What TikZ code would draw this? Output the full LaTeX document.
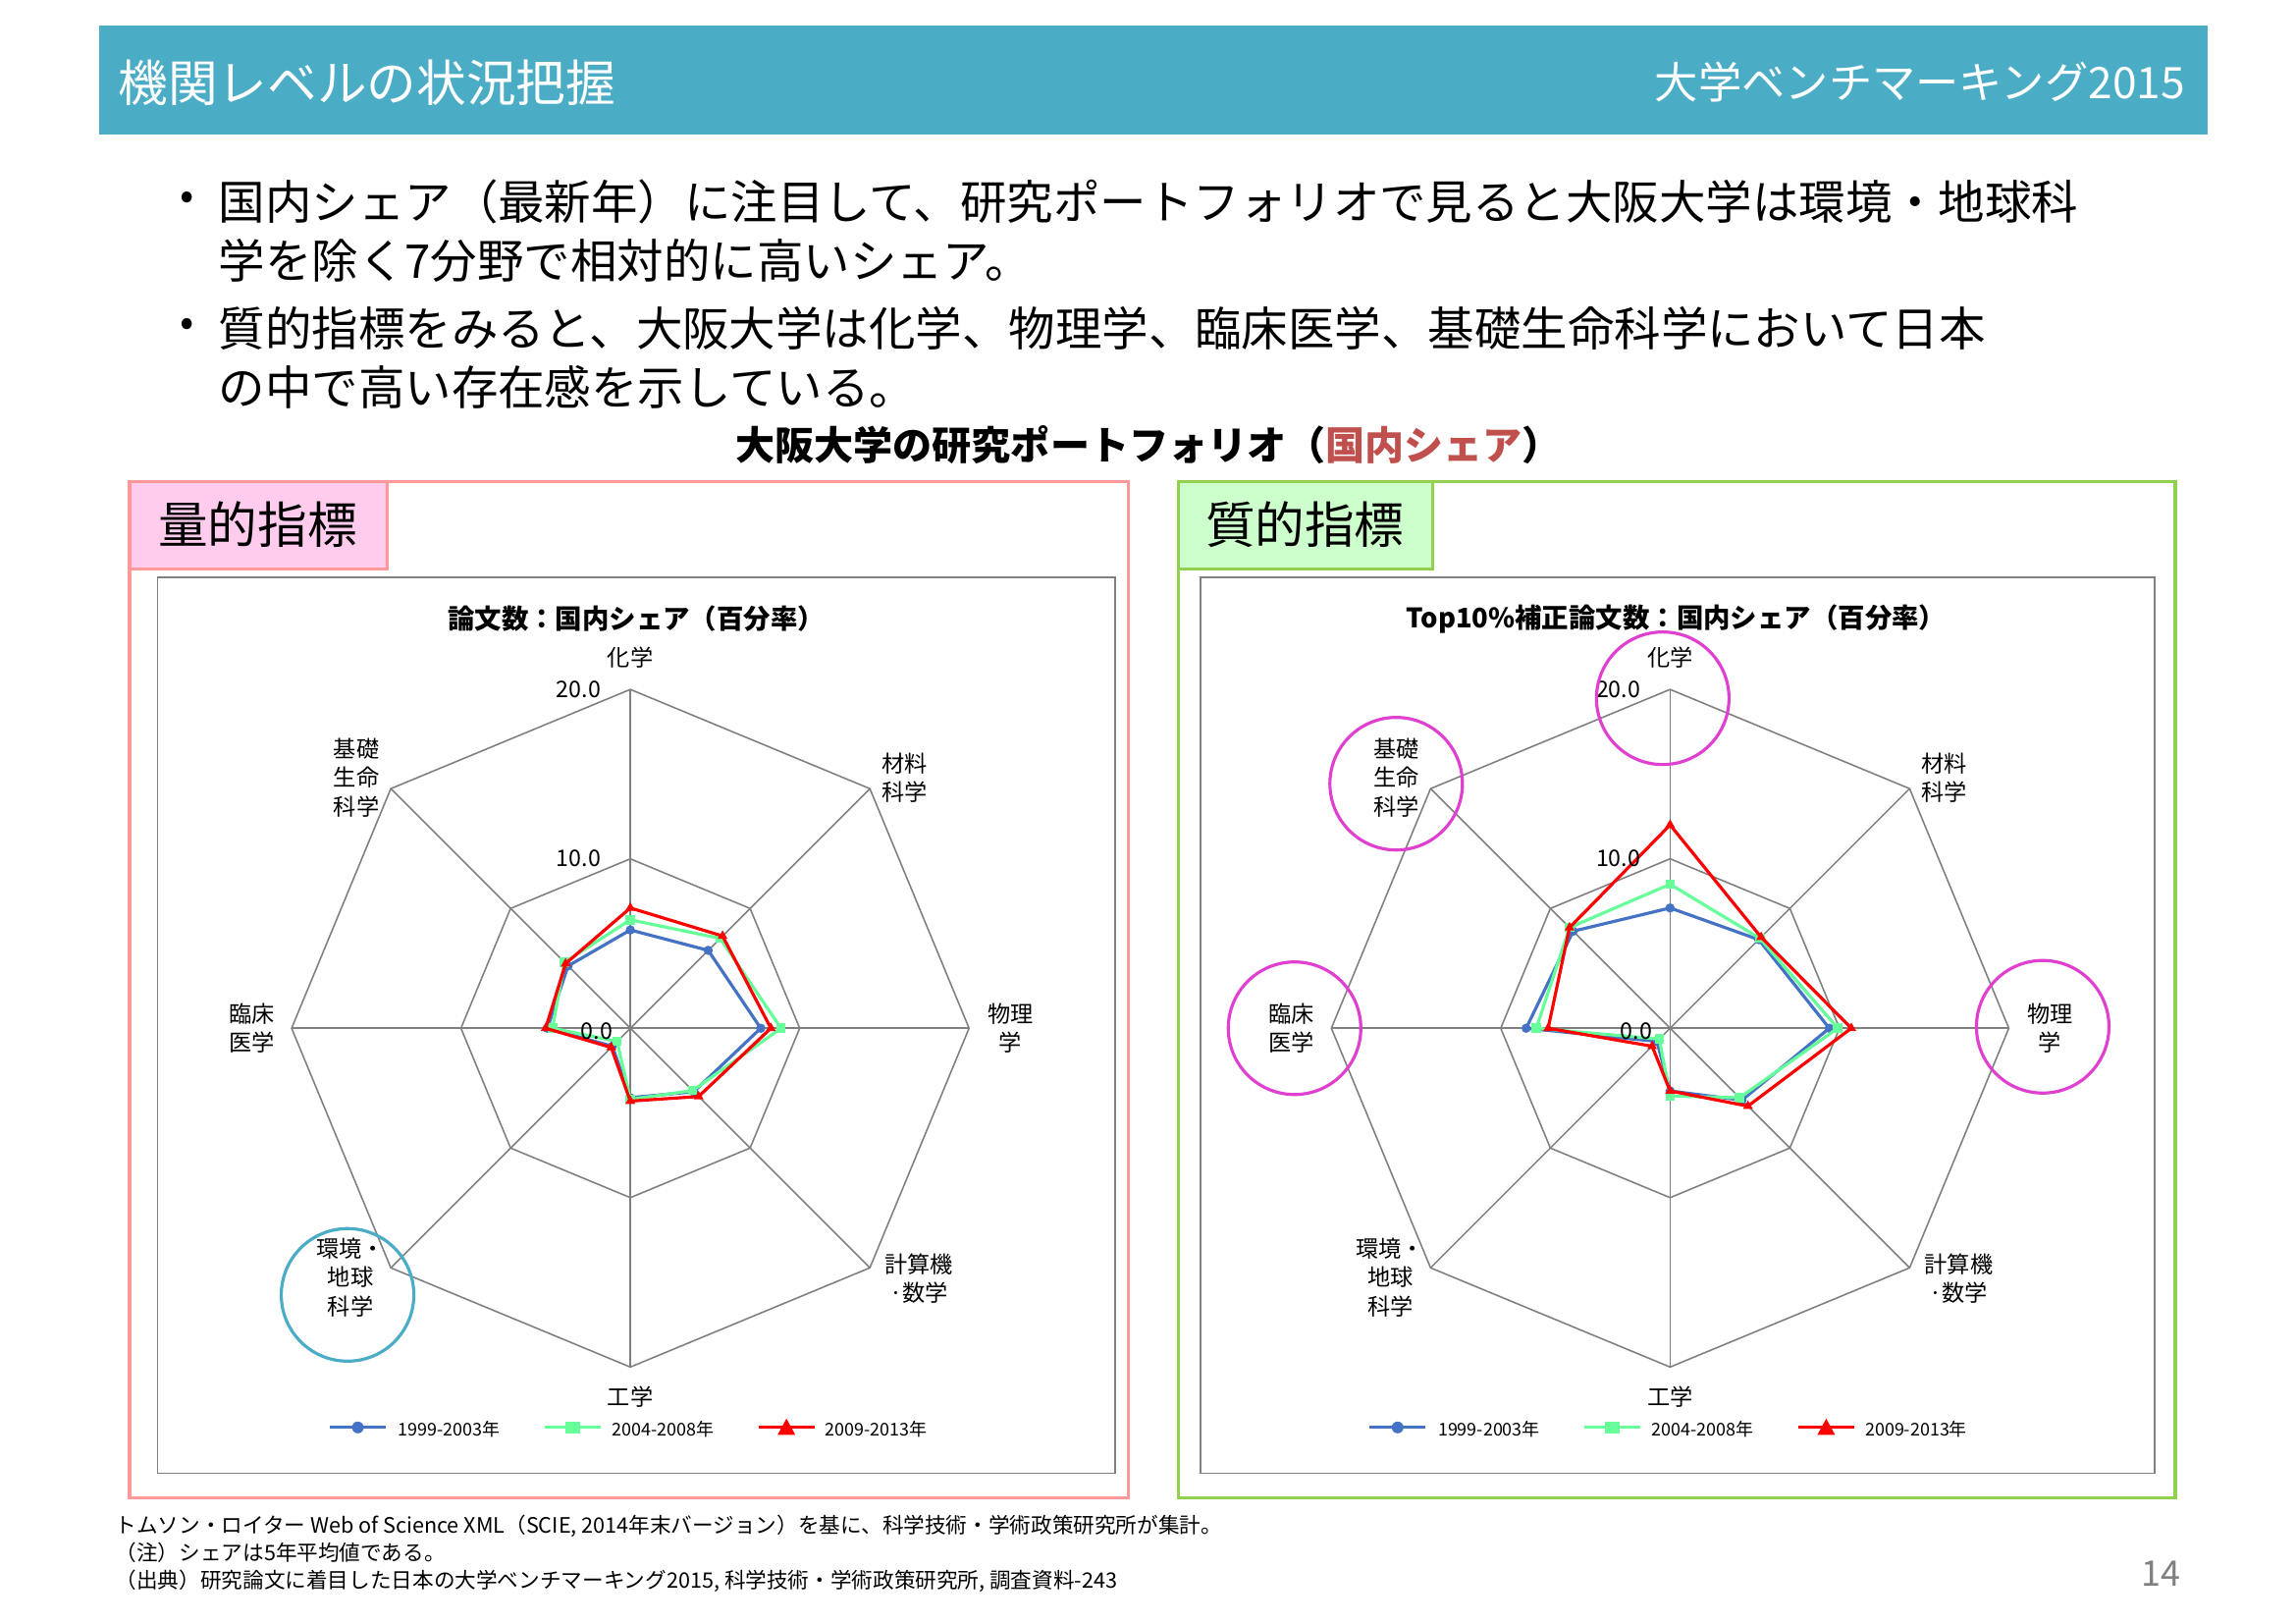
\documentclass[tikz,border=0pt]{standalone}
\usepackage{fontspec}
\setmainfont{Noto Sans CJK JP}
\usetikzlibrary{shapes.geometric}
\definecolor{hdr}{HTML}{4BACC6}
\definecolor{pinkb}{HTML}{FF9999}
\definecolor{pinkf}{HTML}{FFCCEE}
\definecolor{greenb}{HTML}{92D050}
\definecolor{greenf}{HTML}{CCFFCC}
\definecolor{sblue}{HTML}{4472C4}
\definecolor{sgreen}{HTML}{66FF99}
\definecolor{sred}{HTML}{FF0000}
\definecolor{mag}{HTML}{E040D0}
\definecolor{redt}{HTML}{C0504D}
\tikzset{
 fs/.style={font=\fontsize{#1}{#1}\selectfont},
 axl/.style={font=\fontsize{22}{28}\selectfont,align=center,inner sep=0pt},
 grid/.style={draw=gray,line width=1.5pt},
 ser/.style={line width=3pt},
 ring/.style={line width=3pt,fill=none}
}
\newcommand{\myradar}[2]{%
 \begin{scope}[shift={#1},yscale=-1]
 \foreach \k in {0,...,7}{\draw[grid] (0,0) -- ({90-45*\k}:230);}
 \draw[grid] (90:230) \foreach \k in {1,...,7}{ -- ({90-45*\k}:230)} -- cycle;
 \draw[grid] (90:115) \foreach \k in {1,...,7}{ -- ({90-45*\k}:115)} -- cycle;
 #2
 \end{scope}}
\newcommand{\myser}[4]{%
 \foreach \v [count=\i from 0] in {#1}{\coordinate (q\i) at ({90-45*\i}:{\v*11.5});}
 \draw[ser,#2] (q0)--(q1)--(q2)--(q3)--(q4)--(q5)--(q6)--(q7)--cycle;
 \foreach \i in {0,...,7}{\node[#3,fill=#2,inner sep=0pt,minimum size=#4] at (q\i) {};}}
\newcommand{\mylabels}[2]{%
 \begin{scope}[shift={(#1,#2)}]
 \node[axl] at (0,-252) {化学};
 \node[axl] at (186,-170) {材料\\科学};
 \node[axl] at (258,0) {物理\\学};
 \node[axl] at (196,170) {計算機\\·数学};
 \node[axl] at (0,250) {工学};
 \node[axl] at (-190,169) {環境・\\地球\\科学};
 \node[axl] at (-257,0) {臨床\\医学};
 \node[axl] at (-186,-170) {基礎\\生命\\科学};
 \node[axl,anchor=east] at (-20,-230) {20.0};
 \node[axl,anchor=east] at (-20,-115) {10.0};
 \node[axl,anchor=east] at (-12,2) {0.0};
 \draw[ser,sblue] (-204,271) -- (-166,271); \fill[sblue] (-185,271) circle (4);
 \node[fs=17,anchor=west] at (-160,272) {1999-2003年};
 \draw[ser,sgreen] (-58,271) -- (-20,271); \fill[sgreen] (-44,267) rectangle (-34,275);
 \node[fs=17,anchor=west] at (-15,272) {2004-2008年};
 \draw[ser,sred] (87,271) -- (125,271); \fill[sred] (106,265) -- (112,276) -- (100,276) -- cycle;
 \node[fs=17,anchor=west] at (130,272) {2009-2013年};
 \end{scope}}
\begin{document}
\begin{tikzpicture}[x=0.5mm,y=-0.5mm]
\useasboundingbox (0,0) rectangle (1559,1102);
\fill[white] (0,0) rectangle (1559,1102);
\fill[hdr] (67,17) rectangle (1499,91);
\node[fs=48,white,anchor=west] (t1) at (78,56) {機関レベルの状況把握};
\node[fs=42,white,anchor=east] (t2) at (1486,56) {大学ベンチマーキング2015};
\node[fs=40] (b1) at (127,136) {•};
\node[fs=45,anchor=west] (l1) at (146,137) {国内シェア（最新年）に注目して、研究ポートフォリオで見ると大阪大学は環境・地球科};
\node[fs=45,anchor=west] (l2) at (146,177) {学を除く7分野で相対的に高いシェア。};
\node[fs=40] (b2) at (127,222) {•};
\node[fs=45,anchor=west] (l3) at (146,223) {質的指標をみると、大阪大学は化学、物理学、臨床医学、基礎生命科学において日本};
\node[fs=45,anchor=west] (l4) at (146,263) {の中で高い存在感を示している。};
\node[font=\bfseries\fontsize{38}{44}\selectfont] (st) at (780,302) {大阪大学の研究ポートフォリオ（\textcolor{redt}{国内シェア}）};
\draw[pinkb,line width=3pt] (88,327) rectangle (766,1017);
\draw[pinkb,line width=3pt,fill=pinkf] (88,327) rectangle (263,386);
\node[fs=48] (q1) at (175,356) {量的指標};
\draw[gray,line width=1.5pt] (107,392) rectangle (757,1000);
\draw[greenb,line width=3pt] (800,327) rectangle (1477,1017);
\draw[greenb,line width=3pt,fill=greenf] (800,327) rectangle (973,386);
\node[fs=48] (q2) at (886,356) {質的指標};
\draw[gray,line width=1.5pt] (815,392) rectangle (1463,1000);
\node[font=\bfseries\fontsize{26}{30}\selectfont] (ct1) at (432,420) {論文数：国内シェア（百分率）};
\node[font=\bfseries\fontsize{26}{30}\selectfont] (ct2) at (1138,420) {Top10\%補正論文数：国内シェア（百分率）};
\myradar{(428,698)}{%
 \myser{5.8,6.5,7.7,5.3,4.1,1.5,4.9,5.2}{sblue}{circle}{9}
 \myser{6.4,7.5,8.9,5.2,4.2,1.1,4.6,5.5}{sgreen}{rectangle}{9}
 \myser{7.1,7.7,8.3,5.7,4.3,1.6,5.0,5.4}{sred}{regular polygon,regular polygon sides=3}{11}
}
\mylabels{428}{698}
\myradar{(1134,698)}{%
 \myser{7.1,7.4,9.4,6.0,3.7,1.1,8.5,8.1}{sblue}{circle}{9}
 \myser{8.5,7.5,9.9,5.8,4.0,0.9,7.9,8.4}{sgreen}{rectangle}{9}
 \myser{12.0,7.6,10.7,6.5,3.7,1.5,7.2,8.4}{sred}{regular polygon,regular polygon sides=3}{11}
}
\mylabels{1134}{698}
\draw[hdr,ring] (236,879) circle (45);
\draw[mag,ring] (1129,474) circle (45);
\draw[mag,ring] (948,532) circle (45);
\draw[mag,ring] (879,698) circle (45);
\draw[mag,ring] (1387,697) circle (45);
\node[fs=20.5,anchor=west] (f1) at (76,1036) {トムソン・ロイター Web of Science XML（SCIE, 2014年末バージョン）を基に、科学技術・学術政策研究所が集計。};
\node[fs=20.5,anchor=west] (f2) at (76,1054) {（注）シェアは5年平均値である。};
\node[fs=20.5,anchor=west] (f3) at (76,1073) {（出典）研究論文に着目した日本の大学ベンチマーキング2015, 科学技術・学術政策研究所, 調査資料-243};
\node[fs=34,gray] (pg) at (1467,1068) {14};
\end{tikzpicture}
\end{document}
